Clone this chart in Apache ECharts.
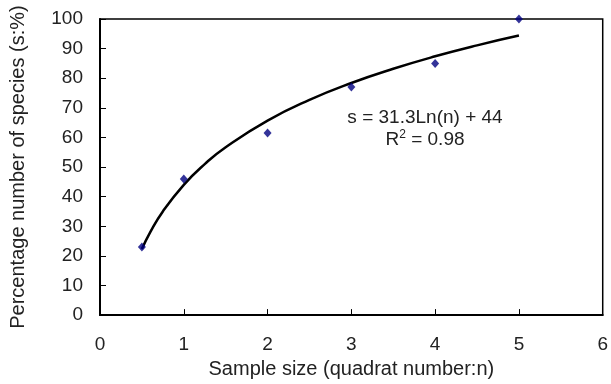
<!DOCTYPE html>
<html>
<head>
<meta charset="utf-8">
<script src="https://cdn.jsdelivr.net/npm/echarts@6/dist/echarts.min.js"></script>
<style>
  html, body { margin: 0; padding: 0; background: #fff; }
  #main { width: 611px; height: 384px; }
</style>
</head>
<body>
<div id="main"></div>
<script>
// observed points
var sampleSize = [0.5, 1, 2, 3, 4, 5];
var species = [23, 46, 61.5, 77, 85, 100];

// trend line
var curveN = [0.5, 0.6, 0.75, 1, 1.25, 1.5, 2, 2.5, 3, 3.5, 4, 4.5, 5];
var curveS = [22.3, 28, 35, 44, 51, 56.7, 65.7, 72.7, 78.4, 83.2, 87.4, 91.1, 94.4];

var equationLines = ['s = 31.3Ln(n) + 44', 'R{sup|2} = 0.98'];

var chartDom = document.getElementById('main');
var myChart = echarts.init(chartDom);
var font = 'Liberation Sans, Arial, sans-serif';

var option = {
  animation: false,
  textStyle: { fontFamily: font },
  grid: {
    left: 100, right: 4, top: 19, bottom: 67,
    show: true, borderColor: '#000', borderWidth: 1.5, backgroundColor: '#fff'
  },
  xAxis: {
    type: 'value',
    min: 0, max: 6, interval: 1,
    name: 'Sample size (quadrat number:n)',
    nameLocation: 'middle',
    nameGap: 43,
    nameTextStyle: { fontSize: 20, color: '#222', fontFamily: font },
    axisLine: { show: true, onZero: false, lineStyle: { color: '#000', width: 2 } },
    axisTick: { show: true, inside: true, length: 6, lineStyle: { color: '#000', width: 1 } },
    axisLabel: { fontSize: 19, color: '#222', margin: 20, fontFamily: font },
    splitLine: { show: false }
  },
  yAxis: {
    type: 'value',
    min: 0, max: 100, interval: 10,
    name: 'Percentage number of species (s:%)',
    nameLocation: 'middle',
    nameGap: 72,
    nameTextStyle: { fontSize: 20, color: '#222', fontFamily: font },
    axisLine: { show: true, onZero: false, lineStyle: { color: '#000', width: 2 } },
    axisTick: { show: true, inside: true, length: 6, lineStyle: { color: '#000', width: 1 } },
    axisLabel: { fontSize: 19, color: '#222', margin: 17, fontFamily: font },
    splitLine: { show: false }
  },
  series: [
    {
      type: 'line',
      data: curveN.map(function (n, i) { return [n, curveS[i]]; }),
      smooth: true,
      showSymbol: false,
      lineStyle: { color: '#000', width: 2.5 },
      z: 2
    },
    {
      type: 'scatter',
      data: sampleSize.map(function (n, i) { return [n, species[i]]; }),
      symbol: 'diamond',
      symbolSize: [8, 9],
      itemStyle: { color: '#000080' },
      z: 3
    }
  ],
  graphic: [
    {
      type: 'text',
      style: {
        x: 425, y: 107,
        text: equationLines.join('\n'),
        align: 'center',
        fontSize: 19,
        lineHeight: 22,
        fill: '#222',
        fontFamily: font,
        rich: {
          sup: { fontSize: 12, verticalAlign: 'top', lineHeight: 22, fill: '#222', fontFamily: font }
        }
      }
    }
  ]
};

option && myChart.setOption(option);
</script>
</body>
</html>
